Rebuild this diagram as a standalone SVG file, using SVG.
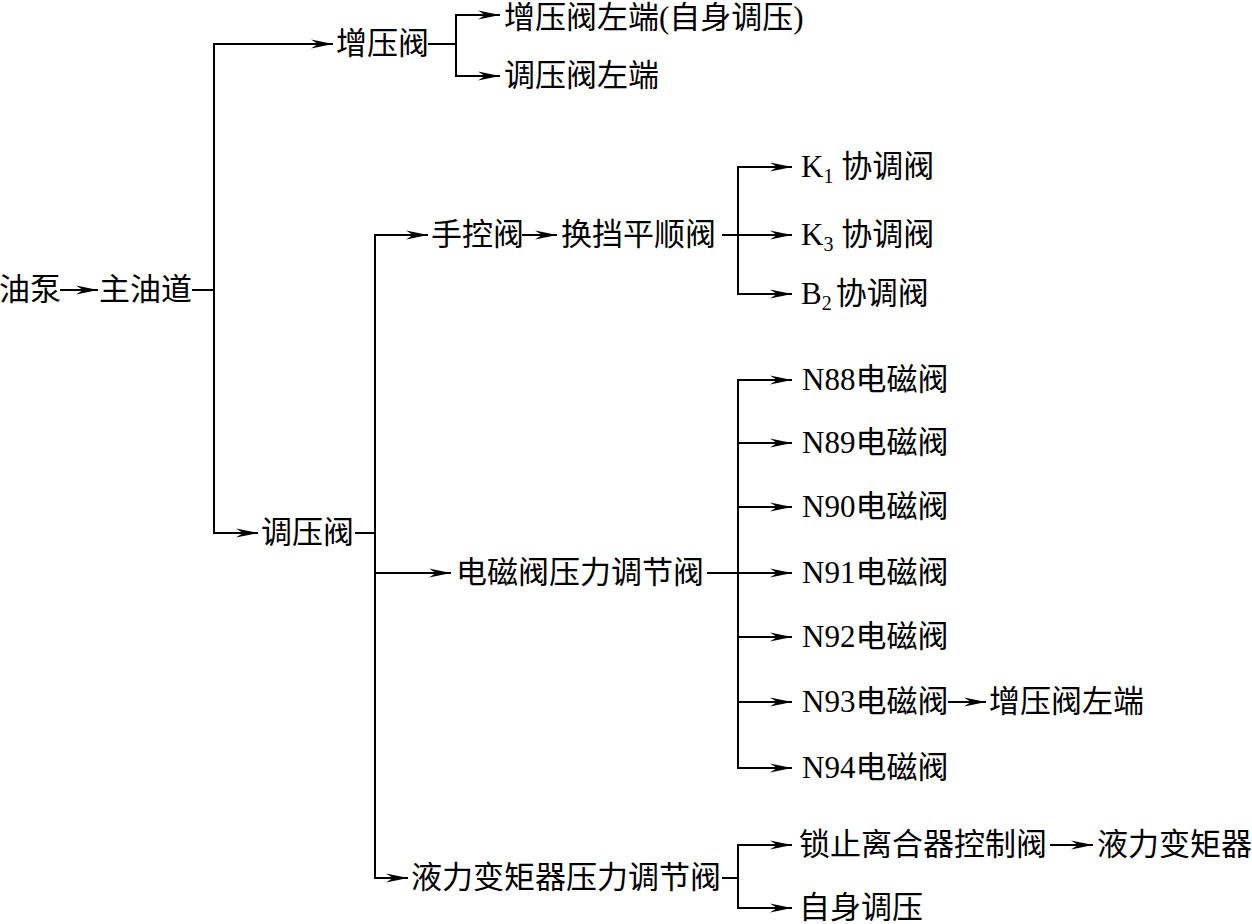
<svg xmlns="http://www.w3.org/2000/svg" width="1252" height="924" viewBox="0 0 1252 924">
<style>
text{font-family:"Liberation Serif","Noto Sans CJK SC",serif;font-size:31px;fill:#000}
.sub{font-size:20px}
#connectors line{stroke:#000;stroke-width:2;fill:none}
.a{marker-end:url(#ah)}
</style>
<defs>
<marker id="ah" markerUnits="userSpaceOnUse" markerWidth="24" markerHeight="12" viewBox="-22 -6 24 12" refX="0" refY="0" orient="auto">
<path d="M0,0 L-22,-4.5 L-15,0 L-22,4.5 Z" fill="#000"/>
</marker>
</defs>
<rect width="1252" height="924" fill="#fff"/>
<g id="connectors">
<line class="a" x1="60" y1="290" x2="98" y2="290"/>
<line x1="192" y1="290" x2="214" y2="290"/>
<line x1="214" y1="43" x2="214" y2="534"/>
<line class="a" x1="213" y1="44" x2="333" y2="44"/>
<line class="a" x1="213" y1="533" x2="258" y2="533"/>
<line x1="428" y1="44" x2="456" y2="44"/>
<line x1="456" y1="14" x2="456" y2="77"/>
<line class="a" x1="455" y1="15" x2="500" y2="15"/>
<line class="a" x1="455" y1="76" x2="500" y2="76"/>
<line x1="355" y1="533" x2="375" y2="533"/>
<line x1="375" y1="234" x2="375" y2="879"/>
<line class="a" x1="374" y1="235" x2="428" y2="235"/>
<line class="a" x1="522" y1="235" x2="557" y2="235"/>
<line class="a" x1="722" y1="235" x2="792" y2="235"/>
<line x1="738" y1="166" x2="738" y2="295"/>
<line class="a" x1="737" y1="167" x2="792" y2="167"/>
<line class="a" x1="737" y1="294" x2="792" y2="294"/>
<line class="a" x1="374" y1="573" x2="451" y2="573"/>
<line class="a" x1="707" y1="573" x2="792" y2="573"/>
<line x1="738" y1="379" x2="738" y2="769"/>
<line class="a" x1="737" y1="380" x2="792" y2="380"/>
<line class="a" x1="737" y1="443" x2="792" y2="443"/>
<line class="a" x1="737" y1="507" x2="792" y2="507"/>
<line class="a" x1="737" y1="637" x2="792" y2="637"/>
<line class="a" x1="737" y1="702" x2="792" y2="702"/>
<line class="a" x1="737" y1="768" x2="792" y2="768"/>
<line class="a" x1="948" y1="702" x2="986" y2="702"/>
<line class="a" x1="374" y1="878" x2="408" y2="878"/>
<line x1="722" y1="878" x2="738" y2="878"/>
<line x1="738" y1="844" x2="738" y2="909"/>
<line class="a" x1="737" y1="845" x2="792" y2="845"/>
<line class="a" x1="737" y1="908" x2="792" y2="908"/>
<line class="a" x1="1050" y1="845" x2="1093" y2="845"/>
</g>
<g id="n-youbeng"><text x="-1" y="300">油泵</text></g>
<g id="n-zhuyoudao"><text x="99" y="300">主油道</text></g>
<g id="n-zengyafa"><text x="336" y="54">增压阀</text></g>
<g id="n-zengyafa-left-self"><text x="504" y="28">增压阀左端(自身调压)</text></g>
<g id="n-tiaoyafa-left"><text x="504" y="86">调压阀左端</text></g>
<g id="n-tiaoyafa"><text x="261" y="543">调压阀</text></g>
<g id="n-shoukongfa"><text x="431" y="245">手控阀</text></g>
<g id="n-huandang"><text x="561" y="245">换挡平顺阀</text></g>
<g id="n-k1"><text x="801" y="177">K<tspan class="sub" dy="6">1</tspan><tspan dy="-6"> 协调阀</tspan></text></g>
<g id="n-k3"><text x="801" y="245">K<tspan class="sub" dy="6">3</tspan><tspan dy="-6"> 协调阀</tspan></text></g>
<g id="n-b2"><text x="801" y="304">B<tspan class="sub" dy="6">2</tspan><tspan dy="-6" dx="4">协调阀</tspan></text></g>
<g id="n-dianci"><text x="456" y="583">电磁阀压力调节阀</text></g>
<g id="n-n88"><text x="802" y="390">N88电磁阀</text></g>
<g id="n-n89"><text x="802" y="453">N89电磁阀</text></g>
<g id="n-n90"><text x="802" y="517">N90电磁阀</text></g>
<g id="n-n91"><text x="802" y="583">N91电磁阀</text></g>
<g id="n-n92"><text x="802" y="647">N92电磁阀</text></g>
<g id="n-n93"><text x="802" y="712">N93电磁阀</text></g>
<g id="n-n93-out"><text x="989" y="712">增压阀左端</text></g>
<g id="n-n94"><text x="802" y="778">N94电磁阀</text></g>
<g id="n-yeli"><text x="411" y="888">液力变矩器压力调节阀</text></g>
<g id="n-suozhi"><text x="799" y="855">锁止离合器控制阀</text></g>
<g id="n-bianjuqi"><text x="1097" y="855">液力变矩器</text></g>
<g id="n-zishen"><text x="799" y="918">自身调压</text></g>
</svg>
